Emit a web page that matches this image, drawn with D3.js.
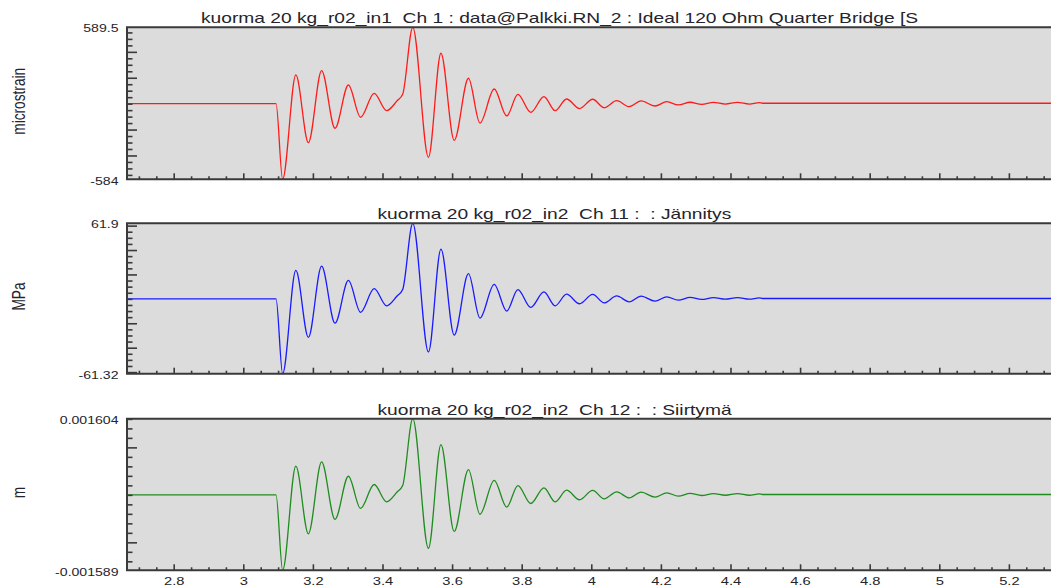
<!DOCTYPE html>
<html>
<head>
<meta charset="utf-8">
<script src="https://cdn.jsdelivr.net/npm/d3@7"></script>
<style>
  html, body { margin: 0; padding: 0; background: #ffffff; }
  svg { display: block; font-family: "Liberation Sans", Arial, sans-serif; }
</style>
</head>
<body>
<svg id="chart" width="1051" height="587"></svg>
<script>
// Time stamps (s) of the recorded samples
const times = [2.6658, 3.094, 3.113, 3.151, 3.187, 3.225, 3.2635, 3.302, 3.337, 3.376,
  3.412, 3.442, 3.458, 3.487, 3.532, 3.568, 3.606, 3.647, 3.680, 3.721,
  3.757, 3.789, 3.826, 3.864, 3.896, 3.929, 3.966, 4.004, 4.037, 4.073,
  4.109, 4.143, 4.183, 4.217, 4.250, 4.284, 4.317, 4.351, 4.385, 4.420,
  4.454, 4.483, 4.492, 5.34];

// Ch 1 : strain gauge (microstrain)
const strain = [0, 0, -584, 222, -301, 255, -190, 144, -105, 80,
  -54, 22, 72, 589.5, -414, 389, -283, 196, -150, 113,
  -95, 72, -67, 54, -54, 36, -38, 34, -31, 23,
  -23, 21, -18, 15, -10, 11, -5, 10, -3, 10,
  -3, 8, 3, 3];

// Ch 11 : Jännitys (MPa)
const stress = [0, 0, -61.32, 23.3, -31.6, 26.8, -19.95, 15.1, -11.0, 8.4,
  -5.7, 2.3, 7.6, 61.9, -43.5, 40.8, -29.7, 20.6, -15.75, 11.9,
  -10.0, 7.6, -7.0, 5.7, -5.7, 3.8, -4.0, 3.6, -3.3, 2.4,
  -2.4, 2.2, -1.9, 1.6, -1.05, 1.2, -0.5, 1.05, -0.3, 1.05,
  -0.3, 0.84, 0.3, 0.3];

// Ch 12 : Siirtymä (m)
const displacement = [0, 0, -0.001589, 0.000604, -0.000819, 0.000694, -0.000517, 0.000392, -0.000286, 0.000218,
  -0.000147, 0.00006, 0.000196, 0.001604, -0.001126, 0.001058, -0.00077, 0.000533, -0.000408, 0.000307,
  -0.000258, 0.000196, -0.000182, 0.000147, -0.000147, 0.000098, -0.000103, 0.000093, -0.000084, 0.000063,
  -0.000063, 0.000057, -0.000049, 0.000041, -0.000027, 0.00003, -0.000014, 0.000027, -0.000008, 0.000027,
  -0.000008, 0.000022, 0.000008, 0.000008];

const titles = [
  "kuorma 20 kg_r02_in1  Ch 1 : data@Palkki.RN_2 : Ideal 120 Ohm Quarter Bridge [S",
  "kuorma 20 kg_r02_in2  Ch 11 :  : Jännitys",
  "kuorma 20 kg_r02_in2  Ch 12 :  : Siirtymä"
];
const units = ["microstrain", "MPa", "m"];
const yMaxLabels = ["589.5", "61.9", "0.001604"];
const yMinLabels = ["-584", "-61.32", "-0.001589"];
const yMax = [589.5, 61.9, 0.001604];
const yMin = [-584, -61.32, -0.001589];
const yMinorStep = [50, 5, 0.0002];
const yMajorStep = [200, 20, 0.001];
const xMajorTicks = [2.8, 3, 3.2, 3.4, 3.6, 3.8, 4, 4.2, 4.4, 4.6, 4.8, 5, 5.2];
const xMinorStep = 0.05;
const series = [strain, stress, displacement];
const colors = ["#ff1a1a", "#1a1aff", "#1f8c1f"];

// Layout
const svg = d3.select("#chart");
const left = 127, right = 1056;
const panelTop = [27.3, 223.3, 418.7];
const panelBottom = [179.3, 373.7, 570.3];
const sx = 1.28;            // horizontal stretch of all lettering
const frameColor = "#3a3a3a";
const textColor = "#24242c";

const x = d3.scaleLinear().domain([2.6658, 5.3354]).range([left, right]);

function stepTicks(lo, hi, step) {
  const k0 = Math.ceil(lo / step - 1e-9), k1 = Math.floor(hi / step + 1e-9);
  return d3.range(k0, k1 + 1).map(k => +(k * step).toPrecision(10));
}

const xMinorTicks = stepTicks(2.7, 5.33, xMinorStep).filter(v => !xMajorTicks.some(m => Math.abs(m - v) < 1e-6));

series.forEach((vals, i) => {
  const top = panelTop[i], bottom = panelBottom[i];
  const y = d3.scaleLinear().domain([yMin[i], yMax[i]]).range([bottom, top]);
  const g = svg.append("g");

  // plot background
  g.append("rect")
    .attr("x", left).attr("y", top)
    .attr("width", right - left).attr("height", bottom - top)
    .attr("fill", "#dcdcdc");

  // data trace
  const line = d3.line()
    .x((d, j) => x(times[j]))
    .y(d => y(d))
    .curve(d3.curveMonotoneX);
  g.append("path")
    .datum(vals)
    .attr("d", line)
    .attr("fill", "none")
    .attr("stroke", colors[i])
    .attr("stroke-width", 1.3)
    .attr("stroke-linejoin", "round");

  // y ticks pointing into the plot
  const yMinor = stepTicks(yMin[i], yMax[i], yMinorStep[i]);
  const yMajor = stepTicks(yMin[i], yMax[i], yMajorStep[i]).filter(v => Math.abs(v) > 1e-12);
  const yMinorOnly = yMinor.filter(v => !yMajor.some(m => Math.abs(m - v) < yMinorStep[i] * 1e-3));
  [[yMinorOnly, 5.5], [yMajor, 10]].forEach(([vals2, len]) => {
    const ax = g.append("g")
      .attr("transform", `translate(${left},0)`)
      .call(d3.axisLeft(y).tickValues(vals2).tickSize(-len).tickFormat(""));
    ax.select(".domain").remove();
    ax.selectAll("line").attr("stroke", frameColor).attr("stroke-width", 1.6);
  });

  // x ticks pointing up into the plot
  [[xMinorTicks, 3], [xMajorTicks, 6]].forEach(([vals2, len], k) => {
    const ax = g.append("g")
      .attr("transform", `translate(0,${bottom})`)
      .call(d3.axisBottom(x).tickValues(vals2).tickSize(-len).tickPadding(6.5)
        .tickFormat(k === 1 && i === 2 ? (d => String(+d.toFixed(1))) : ""));
    ax.select(".domain").remove();
    ax.selectAll("line").attr("stroke", frameColor).attr("stroke-width", 1.6);
    ax.selectAll("text")
      .attr("fill", textColor)
      .attr("font-size", 11.5)
      .attr("font-family", "Liberation Sans, Arial, sans-serif")
      .attr("transform", `scale(${sx},1)`);
  });

  // frame: top, left and bottom edges
  g.append("path")
    .attr("d", `M${right},${top}H${left}V${bottom}H${right}`)
    .attr("fill", "none")
    .attr("stroke", frameColor)
    .attr("stroke-width", 2);

  // range labels at the ends of the y axis
  [[yMaxLabels[i], top + 5], [yMinLabels[i], bottom + 5.5]].forEach(([t, yy]) => {
    g.append("text")
      .attr("transform", `translate(118.5,${yy}) scale(${sx},1)`)
      .attr("text-anchor", "end")
      .attr("font-size", 11)
      .attr("fill", textColor)
      .text(t);
  });

  // unit label
  g.append("text")
    .attr("transform", `translate(25,${(top + bottom) / 2 - 2}) scale(${sx},1) rotate(-90)`)
    .attr("text-anchor", "middle")
    .attr("font-size", 13.7)
    .attr("fill", textColor)
    .text(units[i]);

  // panel title
  g.append("text")
    .attr("transform", `translate(${i === 0 ? 201 : 377.5},${top - 4}) scale(${sx},1)`)
    .attr("font-size", 15)
    .attr("fill", textColor)
    .style("white-space", "pre")
    .text(titles[i]);
});
</script>
</body>
</html>
